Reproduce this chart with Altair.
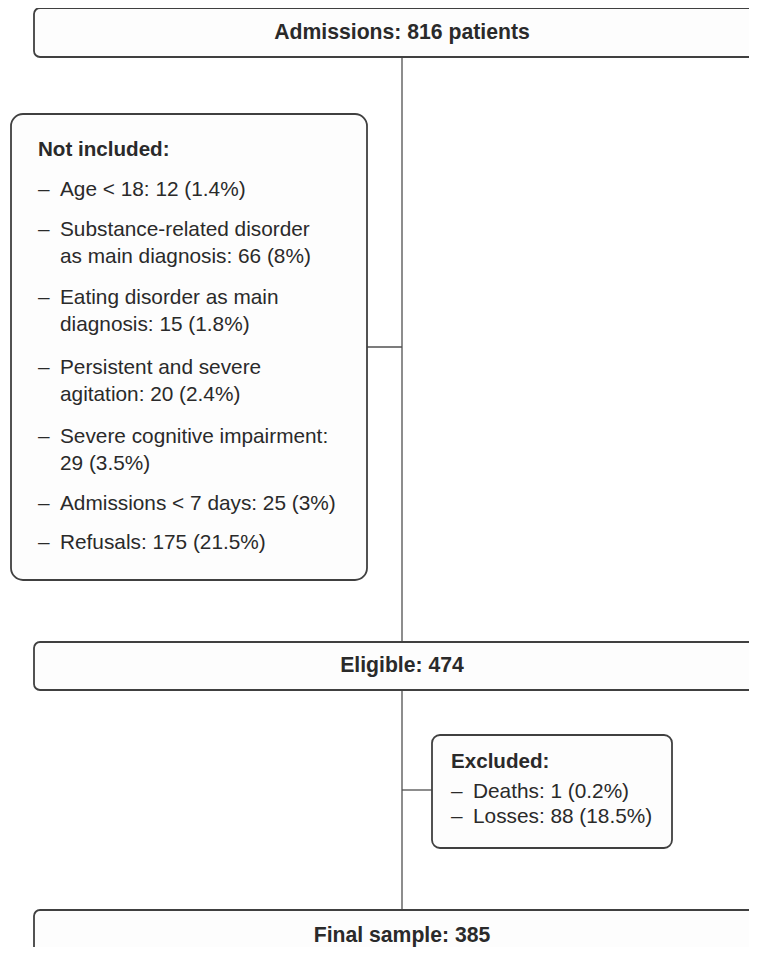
import altair as alt
import pandas as pd

# ---------------- chart content (values) ----------------
admissions = 816
eligible = 474
final_sample = 385

ni_title = "Not included:"
ni_labels = [
    "Age < 18: {n} ({p}%)",
    "Substance-related disorder\nas main diagnosis: {n} ({p}%)",
    "Eating disorder as main\ndiagnosis: {n} ({p}%)",
    "Persistent and severe\nagitation: {n} ({p}%)",
    "Severe cognitive impairment:\n{n} ({p}%)",
    "Admissions < 7 days: {n} ({p}%)",
    "Refusals: {n} ({p}%)",
]
ni_counts = [12, 66, 15, 20, 29, 25, 175]
ni_pcts = ["1.4", "8", "1.8", "2.4", "3.5", "3", "21.5"]

ex_title = "Excluded:"
ex_labels = ["Deaths: {n} ({p}%)", "Losses: {n} ({p}%)"]
ex_counts = [1, 88]
ex_pcts = ["0.2", "18.5"]

# ---------------- layout (page pixel coordinates) ----------------
OFF = 8  # page margin
CW, CH = 741, 939  # chart size

ni_item_y = [190, 230, 298, 368, 437, 504, 543]
ni_line_h = 27
ex_item_y = [792, 817]

boxes_wide = pd.DataFrame({"x": [34, 34, 34], "x2": [800, 800, 800],
                           "y": [8, 642, 910], "y2": [57, 690, 1000]})
box_left = pd.DataFrame({"x": [11], "x2": [367], "y": [114], "y2": [580]})
box_ex = pd.DataFrame({"x": [432], "x2": [672], "y": [735], "y2": [848]})

rules = pd.DataFrame({
    "x": [402, 367, 402, 402], "x2": [402, 402, 402, 432],
    "y": [57, 347, 690, 790], "y2": [642, 347, 910, 790],
})

center_titles = pd.DataFrame({
    "x": [402, 402, 402], "y": [33, 666, 936],
    "t": [f"Admissions: {admissions} patients", f"Eligible: {eligible}",
          f"Final sample: {final_sample}"],
})
left_titles = pd.DataFrame({"x": [38, 451], "y": [150, 762], "t": [ni_title, ex_title]})

rows = []
dash_rows = []
for lab, n, p, y0 in zip(ni_labels, ni_counts, ni_pcts, ni_item_y):
    dash_rows.append({"x": 38, "y": y0, "t": "–"})
    for i, line in enumerate(lab.format(n=n, p=p).split("\n")):
        rows.append({"x": 60, "y": y0 + i * ni_line_h, "t": line})
for lab, n, p, y0 in zip(ex_labels, ex_counts, ex_pcts, ex_item_y):
    dash_rows.append({"x": 451, "y": y0, "t": "–"})
    rows.append({"x": 473, "y": y0, "t": lab.format(n=n, p=p)})
body = pd.DataFrame(rows)
dashes = pd.DataFrame(dash_rows)


def sh(df):
    df = df.copy()
    for c in ["x", "x2", "y", "y2"]:
        if c in df:
            df[c] = df[c] - OFF
    return df


xs = alt.Scale(domain=[0, CW], range=[0, CW])
ys = alt.Scale(domain=[0, CH], range=[0, CH])
X = lambda f="x": alt.X(f"{f}:Q", scale=xs, axis=None)
Y = lambda f="y": alt.Y(f"{f}:Q", scale=ys, axis=None)

STROKE = "#404040"
FILL = "#fdfdfd"
TXT = "#2a2a2a"
FONT = "Liberation Sans"
FS = 20.8


def boxes(df, r):
    return alt.Chart(sh(df)).mark_rect(
        cornerRadius=r, fill=FILL, stroke=STROKE, strokeWidth=1.8, clip=True
    ).encode(x=X(), x2="x2:Q", y=Y(), y2="y2:Q")


rule_layer = alt.Chart(sh(rules)).mark_rule(color="#505050", strokeWidth=1.3).encode(
    x=X(), x2="x2:Q", y=Y(), y2="y2:Q")

ctitle = alt.Chart(sh(center_titles)).mark_text(
    font=FONT, fontSize=21.2, fontWeight="bold", color=TXT, align="center", baseline="middle"
).encode(x=X(), y=Y(), text="t:N")

ltitle = alt.Chart(sh(left_titles)).mark_text(
    font=FONT, fontSize=20.6, fontWeight="bold", color=TXT, align="left", baseline="middle"
).encode(x=X(), y=Y(), text="t:N")

body_layer = alt.Chart(sh(body)).mark_text(
    font=FONT, fontSize=FS, color=TXT, align="left", baseline="middle"
).encode(x=X(), y=Y(), text="t:N")

dash_layer = alt.Chart(sh(dashes)).mark_text(
    font=FONT, fontSize=FS, color=TXT, align="left", baseline="middle"
).encode(x=X(), y=Y(), text="t:N")

# white masks over the view's frame edges (drawn first, under the boxes)
edge_src = pd.DataFrame({"e": [0]})
edge_left = alt.Chart(edge_src).mark_rule(color="white", strokeWidth=4).encode(
    x=alt.value(0), y=alt.value(0), y2=alt.value(CH))
edge_top = alt.Chart(edge_src).mark_rule(color="white", strokeWidth=4).encode(
    x=alt.value(0), x2=alt.value(CW), y=alt.value(0))
edge_bottom = alt.Chart(edge_src).mark_rule(color="white", strokeWidth=4).encode(
    x=alt.value(0), x2=alt.value(CW), y=alt.value(CH))

chart = alt.layer(
    edge_left, edge_top, edge_bottom,
    rule_layer,
    boxes(boxes_wide, 6),
    boxes(box_left, 12),
    boxes(box_ex, 8),
    ctitle, ltitle, body_layer, dash_layer,
).properties(
    width=CW, height=CH, autosize=alt.AutoSizeParams(type="none"), padding=0
).configure_view(strokeWidth=0, stroke="transparent", fill="white").configure(background="white")

chart.save("out.html", embed_options={"renderer": "svg", "actions": False})
